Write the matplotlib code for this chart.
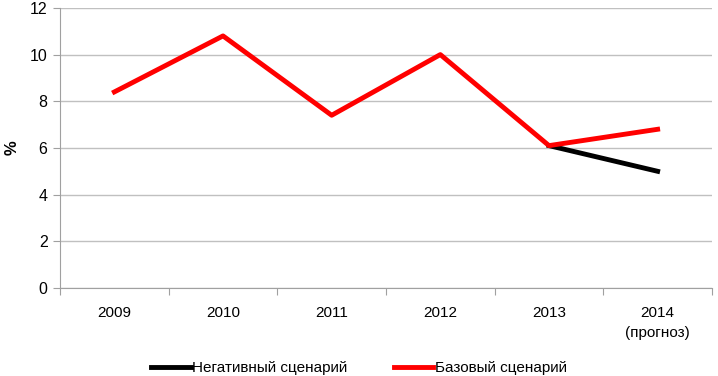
import numpy as np
from matplotlib import pyplot as plt

years = ['2009', '2010', '2011', '2012', '2013', '2014\n(прогноз)']
base = [8.4, 10.8, 7.4, 10.0, 6.1, 6.8]
negative = [np.nan, np.nan, np.nan, np.nan, 6.1, 5.0]

plt.rcParams['font.family'] = ['Liberation Sans', 'DejaVu Sans']

fig = plt.figure(figsize=(7.18, 3.76), dpi=100)
ax = fig.add_axes([0.0836, 0.234, 0.9080, 0.745])

x = np.arange(len(years))
ax.plot(x, negative, color='black', linewidth=3.5, label='Негативный сценарий')
ax.plot(x, base, color='#ff0000', linewidth=3.5, label='Базовый сценарий')

ax.set_xlim(-0.5, len(years) - 0.5)
ax.set_ylim(0, 12)
ax.set_yticks(np.arange(0, 13, 2))
ax.set_xticks(np.arange(-0.5, len(years), 1))
ax.set_xticklabels([])
ax.set_xticks(x, minor=True)
ax.set_xticklabels(years, minor=True, linespacing=1.5)
ax.tick_params(axis='x', which='minor', length=0, pad=13, labelsize=11)
ax.tick_params(axis='x', which='major', length=5, color='#a0a0a0')
ax.tick_params(axis='y', length=5, color='#a0a0a0', labelsize=11.5, pad=4)

ax.grid(True, axis='y', color='#c0c0c0', linewidth=1)
ax.set_axisbelow(True)
for s in ['top', 'right']:
    ax.spines[s].set_visible(False)
for s in ['left', 'bottom']:
    ax.spines[s].set_color('#a0a0a0')

ax.set_ylabel('%', fontsize=12, fontweight='bold')
ax.yaxis.set_label_coords(-0.062, 0.5)

fig.legend(loc='lower center', ncol=2, frameon=False, fontsize=11,
           bbox_to_anchor=(0.5, -0.035), handlelength=2.6, handletextpad=0.1,
           columnspacing=3)

plt.savefig('out.png')
